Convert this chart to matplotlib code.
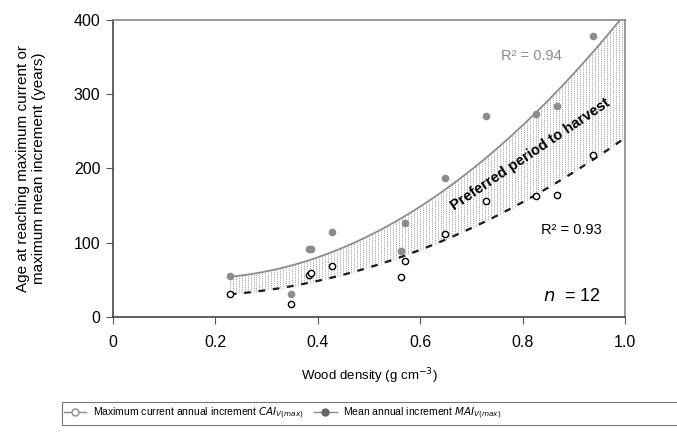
import numpy as np
import matplotlib.pyplot as plt
from matplotlib.lines import Line2D
from matplotlib.patches import Rectangle

plt.rcParams['font.family'] = ['Liberation Sans', 'DejaVu Sans']

# wood density (g cm-3) of the 12 species
density = [0.228, 0.348, 0.383, 0.387, 0.427, 0.563, 0.571, 0.648, 0.728, 0.827, 0.868, 0.938]
# age (years) at maximum mean annual increment MAI
mai_age = [55, 31, 91, 92, 114, 89, 127, 187, 271, 273, 284, 379]
# age (years) at maximum current annual increment CAI
cai_age = [31, 17, 56, 59, 68, 53, 75, 112, 156, 163, 164, 218]

# quadratic trend lines as drawn in the figure (a*x^2 + b*x + c)
mai_trend = [511, -169, 66]
cai_trend = [280, -71, 32]
trend_start, trend_end = 0.228, 1.0

x_ticks = [0, 0.2, 0.4, 0.6, 0.8, 1.0]
x_labels = ['0', '0.2', '0.4', '0.6', '0.8', '1.0']
y_ticks = [0, 100, 200, 300, 400]

fig = plt.figure(figsize=(6.77, 4.34), dpi=100)
ax = fig.add_axes([0.167, 0.270, 0.756, 0.684])

xs = np.linspace(trend_start, trend_end, 200)
up = np.polyval(mai_trend, xs)
lo = np.polyval(cai_trend, xs)

# dotted vertical shading between the two trends
xv = np.arange(trend_start, trend_end, 0.0058)
ax.vlines(xv, np.polyval(cai_trend, xv), np.minimum(np.polyval(mai_trend, xv), 400),
          colors='#8a8a8a', linestyles=(0, (1, 1.2)), linewidth=0.6, zorder=1)

ax.plot(xs, up, color='#8c8c8c', lw=1.3, zorder=2)
ax.plot(xs, lo, color='#1a1a1a', lw=1.6, linestyle=(0, (3, 3.5)), zorder=2)

ax.plot(density, mai_age, 'o', color='#8c8c8c', ms=4.5, zorder=3)
ax.plot(density, cai_age, 'o', mfc='white', mec='black', mew=1.0, ms=4.5, zorder=3)

ax.text(0.818, 351, 'R² = 0.94', color='#8c8c8c', fontsize=10.5, ha='center', va='center')
ax.text(0.896, 117, 'R² = 0.93', color='black', fontsize=10.5, ha='center', va='center')
ax.text(0.897, 28, '$n$  = 12', color='black', fontsize=13, ha='center', va='center')
ax.text(0.815, 219, 'Preferred period to harvest', fontsize=10.5, fontweight='bold',
        rotation=34, ha='center', va='center', rotation_mode='anchor')

ax.set_xlim(0, 1.0)
ax.set_ylim(0, 400)
ax.set_xticks(x_ticks)
ax.set_xticklabels(x_labels)
ax.set_yticks(y_ticks)
ax.tick_params(labelsize=11.5, length=5, direction='out', color='#555555', pad=8)
ax.tick_params(axis='y', pad=4)
for side in ['top', 'right']:
    ax.spines[side].set_color('#888888')
for side in ['left', 'bottom']:
    ax.spines[side].set_color('#444444')
for s in ax.spines.values():
    s.set_linewidth(1.2)

ax.set_xlabel('Wood density (g cm$^{-3}$)', fontsize=9.5, labelpad=12)
ax.set_ylabel('Age at reaching maximum current or\nmaximum mean increment (years)',
              fontsize=11, labelpad=20)

# legend frame runs off the right edge
fig.patches.append(Rectangle((0.0916, 0.021), 0.95, 0.053, transform=fig.transFigure,
                             fill=False, edgecolor='#777777', lw=0.8))
handles = [
    Line2D([], [], color='#8c8c8c', lw=1, marker='o', mfc='white', mec='#8c8c8c', ms=5),
    Line2D([], [], color='#8c8c8c', lw=1, marker='o', mfc='#666666', mec='#666666', ms=5),
]
labels = ['Maximum current annual increment $CAI_{V(max)}$',
          'Mean annual increment $MAI_{V(max)}$']
fig.legend(handles, labels, loc='center left', bbox_to_anchor=(0.08, 0.047),
           ncol=2, fontsize=7.5, frameon=False, handlelength=2.2,
           handletextpad=0.6, columnspacing=1.0)

fig.savefig('out.png', dpi=100)
